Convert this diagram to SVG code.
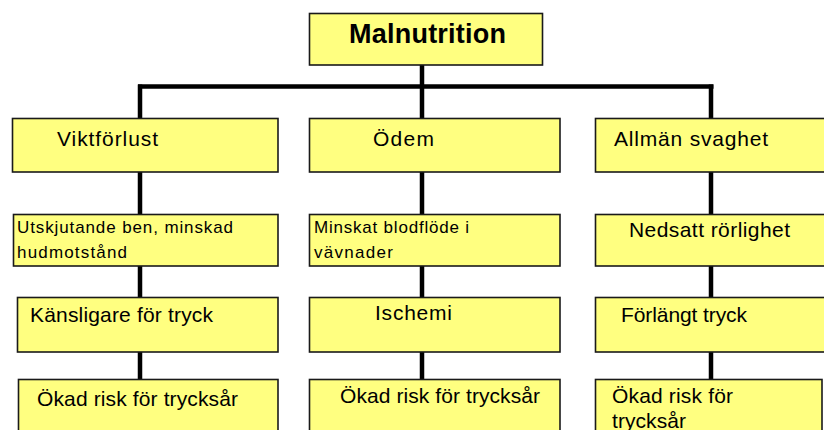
<svg xmlns="http://www.w3.org/2000/svg" width="824" height="430" viewBox="0 0 824 430">
  <style>
    .box { fill: #FFFF80; stroke: #1a1a1a; stroke-width: 1.6; }
    .wire { stroke: #000; stroke-width: 4.5; fill: none; stroke-linecap: butt; }
    .lbl { font-family: "Liberation Sans", Arial, sans-serif; font-size: 21px; fill: #000; }
    .sm { font-family: "Liberation Sans", Arial, sans-serif; font-size: 17px; fill: #000; }
    .title { font-family: "Liberation Sans", Arial, sans-serif; font-size: 27px; font-weight: bold; fill: #000; }
  </style>
  <rect width="824" height="430" fill="#fff"/>

  <!-- connectors -->
  <g id="connectors">
    <path class="wire" d="M422 65 V88"/>
    <path class="wire" d="M138 86.5 H713.5"/>
    <path class="wire" d="M140 84.5 V118 M422 86.5 V118 M711 84.5 V118"/>
    <path class="wire" d="M140 172 V214 M422 172 V214 M711 172 V214"/>
    <path class="wire" d="M140 266 V297 M422 266 V297 M711 266 V297"/>
    <path class="wire" d="M140 352 V379 M422 352 V379 M711 352 V379"/>
  </g>

  <!-- root -->
  <g id="malnutrition">
    <rect class="box" x="309.5" y="13.5" width="233" height="51.5"/>
    <text class="title" x="349" y="43" textLength="157" lengthAdjust="spacing">Malnutrition</text>
  </g>

  <!-- left column -->
  <g id="viktforlust">
    <rect class="box" x="12.5" y="118.5" width="265.5" height="53.5"/>
    <text class="lbl" x="57" y="146" textLength="101" lengthAdjust="spacing">Viktförlust</text>
  </g>
  <g id="utskjutande">
    <rect class="box" x="13.5" y="214.5" width="264.5" height="51.5"/>
    <text class="sm" x="17" y="233" textLength="216" lengthAdjust="spacing">Utskjutande ben, minskad</text>
    <text class="sm" x="17" y="258" textLength="110" lengthAdjust="spacing">hudmotstånd</text>
  </g>
  <g id="kansligare">
    <rect class="box" x="17.5" y="297.5" width="260.5" height="54.5"/>
    <text class="lbl" x="30" y="322" textLength="183" lengthAdjust="spacing">Känsligare för tryck</text>
  </g>
  <g id="risk-left">
    <rect class="box" x="18.5" y="379.5" width="259.5" height="60"/>
    <text class="lbl" x="37" y="406" textLength="201" lengthAdjust="spacing">Ökad risk för trycksår</text>
  </g>

  <!-- middle column -->
  <g id="odem">
    <rect class="box" x="309.5" y="118.5" width="250.5" height="53.5"/>
    <text class="lbl" x="373" y="146" textLength="61" lengthAdjust="spacing">Ödem</text>
  </g>
  <g id="blodflode">
    <rect class="box" x="309.5" y="214.5" width="250.5" height="51.5"/>
    <text class="sm" x="314" y="233" textLength="155" lengthAdjust="spacing">Minskat blodflöde i</text>
    <text class="sm" x="314" y="258" textLength="79" lengthAdjust="spacing">vävnader</text>
  </g>
  <g id="ischemi">
    <rect class="box" x="309.5" y="297.5" width="250.5" height="54.5"/>
    <text class="lbl" x="375" y="320" textLength="77" lengthAdjust="spacing">Ischemi</text>
  </g>
  <g id="risk-middle">
    <rect class="box" x="309.5" y="379.5" width="250.5" height="60"/>
    <text class="lbl" x="340" y="403" textLength="200" lengthAdjust="spacing">Ökad risk för trycksår</text>
  </g>

  <!-- right column -->
  <g id="svaghet">
    <rect class="box" x="595.5" y="118.5" width="240" height="53.5"/>
    <text class="lbl" x="614" y="146" textLength="154" lengthAdjust="spacing">Allmän svaghet</text>
  </g>
  <g id="rorlighet">
    <rect class="box" x="595.5" y="214.5" width="240" height="51.5"/>
    <text class="lbl" x="629" y="237" textLength="161" lengthAdjust="spacing">Nedsatt rörlighet</text>
  </g>
  <g id="forlangt">
    <rect class="box" x="595.5" y="297.5" width="240" height="54.5"/>
    <text class="lbl" x="621" y="322" textLength="126" lengthAdjust="spacing">Förlängt tryck</text>
  </g>
  <g id="risk-right">
    <rect class="box" x="595.5" y="379.5" width="226.5" height="60"/>
    <text class="lbl" x="612" y="403" textLength="121" lengthAdjust="spacing">Ökad risk för</text>
    <text class="lbl" x="612" y="428" textLength="74" lengthAdjust="spacing">trycksår</text>
  </g>
</svg>
